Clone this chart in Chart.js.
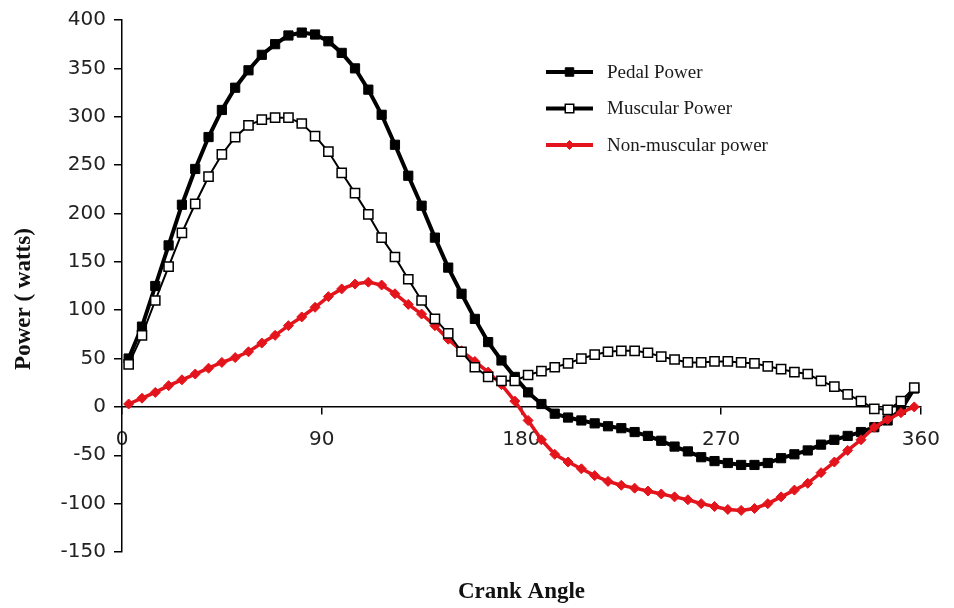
<!DOCTYPE html>
<html>
<head>
<meta charset="utf-8">
<title>Pedal power vs crank angle</title>
<script src="https://cdn.jsdelivr.net/npm/chart.js@4.4.1/dist/chart.umd.min.js"></script>
<style>
  html, body { margin: 0; padding: 0; background: #fff; }
  canvas { display: block; }
</style>
</head>
<body>
<canvas id="powerChart" width="954" height="608"></canvas>
<script>
// crank angle (deg) of each sample
const crankAngles = [
  3, 9, 15, 21, 27, 33, 39, 45, 51, 57,
  63, 69, 75, 81, 87, 93, 99, 105, 111, 117,
  123, 129, 135, 141, 147, 153, 159, 165, 171, 177,
  183, 189, 195, 201, 207, 213, 219, 225, 231, 237,
  243, 249, 255, 261, 267, 273, 279, 285, 291, 297,
  303, 309, 315, 321, 327, 333, 339, 345, 351, 357
];

// power in watts
const pedalPower = [
  50, 83, 125, 167, 209, 246, 279, 307, 330, 348,
  364, 375, 384, 387, 385, 378, 366, 350, 328, 302,
  271, 239, 208, 175, 144, 117, 91, 67, 48, 31,
  15, 3, -7, -11, -14, -17, -20, -22, -26, -30,
  -35, -41, -46, -52, -56, -58, -60, -60, -58, -53,
  -49, -45, -39, -34, -30, -26, -21, -14, -3, 19
];
const muscularPower = [
  44, 74, 110, 145, 180, 210, 238, 261, 279, 291,
  297, 299, 299, 293, 280, 264, 242, 221, 199, 175,
  155, 132, 110, 91, 76, 57, 41, 31, 27, 27,
  33, 37, 41, 45, 50, 54, 57, 58, 58, 56,
  52, 49, 46, 46, 47, 47, 46, 45, 42, 39,
  36, 34, 27, 21, 13, 6, -2, -3, 6, 20
];
const nonMuscularPower = [
  3, 9, 15, 22, 28, 34, 40, 46, 51, 57,
  66, 74, 84, 93, 103, 114, 122, 127, 129, 126,
  117, 106, 96, 84, 70, 58, 47, 36, 23, 6,
  -14, -34, -49, -57, -64, -71, -77, -81, -84, -87,
  -90, -93, -96, -100, -103, -106, -107, -105, -100, -93,
  -86, -79, -68, -57, -45, -34, -21, -13, -6, 0
];

const xTicks = [0, 90, 180, 270, 360];

const RED = '#e3141c';
const tickFont = { family: '"DejaVu Sans", sans-serif', size: 20 };

function pts(values) {
  return values.map((v, i) => ({ x: crankAngles[i], y: v }));
}

// legend with a short line + marker, like the original
const lineLegend = {
  id: 'lineLegend',
  afterDraw(chart, args, opts) {
    const ctx = chart.ctx;
    ctx.save();
    chart.data.datasets.forEach((ds, i) => {
      const y = opts.y + i * opts.gap;
      ctx.strokeStyle = ds.borderColor;
      ctx.lineWidth = opts.lineWidth;
      ctx.beginPath();
      ctx.moveTo(opts.x, y);
      ctx.lineTo(opts.x + opts.len, y);
      ctx.stroke();
      ctx.fillStyle = ds.pointBackgroundColor;
      ctx.strokeStyle = ds.pointBorderColor;
      ctx.lineWidth = ds.pointBorderWidth;
      Chart.helpers.drawPoint(ctx, {
        pointStyle: ds.pointStyle,
        radius: ds.pointRadius - 0.5,
        borderWidth: ds.pointBorderWidth,
        rotation: 0
      }, opts.x + opts.len / 2, y);
      ctx.fillStyle = '#1a1a1a';
      ctx.font = opts.font;
      ctx.textAlign = 'left';
      ctx.textBaseline = 'middle';
      ctx.fillText(ds.label, opts.x + opts.len + opts.textGap, y + 1);
    });
    ctx.restore();
  }
};

const axisTitles = {
  id: 'axisTitles',
  afterDraw(chart, args, opts) {
    const { ctx, chartArea } = chart;
    ctx.save();
    ctx.fillStyle = '#111';
    ctx.font = opts.font;
    ctx.textAlign = 'center';
    ctx.textBaseline = 'middle';
    ctx.fillText(opts.xText, (chartArea.left + chartArea.right) / 2, opts.xTitleY);
    ctx.translate(opts.yTitleX, opts.yTitleY);
    ctx.rotate(-Math.PI / 2);
    ctx.fillText(opts.yText, 0, 0);
    ctx.restore();
  }
};

const whiteBg = {
  id: 'whiteBg',
  beforeDraw(chart) {
    const ctx = chart.ctx;
    ctx.save();
    ctx.fillStyle = '#fff';
    ctx.fillRect(0, 0, chart.width, chart.height);
    ctx.restore();
  }
};

new Chart(document.getElementById('powerChart'), {
  type: 'line',
  data: {
    datasets: [
      {
        label: 'Pedal Power',
        data: pts(pedalPower),
        borderColor: '#000',
        borderWidth: 4,
        pointStyle: 'rect',
        pointRadius: 6.5,
        pointBackgroundColor: '#000',
        pointBorderColor: '#000',
        pointBorderWidth: 1,
        order: 2
      },
      {
        label: 'Muscular Power',
        data: pts(muscularPower),
        borderColor: '#000',
        borderWidth: 2,
        pointStyle: 'rect',
        pointRadius: 6.5,
        pointBackgroundColor: '#fff',
        pointBorderColor: '#000',
        pointBorderWidth: 1.5,
        order: 0
      },
      {
        label: 'Non-muscular power',
        data: pts(nonMuscularPower),
        borderColor: RED,
        borderWidth: 3.5,
        pointStyle: 'rectRot',
        pointRadius: 5,
        pointBackgroundColor: RED,
        pointBorderColor: RED,
        pointBorderWidth: 1,
        order: 1
      }
    ]
  },
  options: {
    responsive: false,
    animation: false,
    layout: { padding: { left: 0, right: 25, top: 18, bottom: 56 } },
    scales: {
      x: {
        type: 'linear',
        position: { y: 0 },
        min: 0,
        max: 360,
        afterBuildTicks: (scale) => { scale.ticks = xTicks.map(v => ({ value: v })); },
        grid: { drawOnChartArea: false, drawTicks: true, tickLength: 7, color: '#000', lineWidth: 1.5 },
        border: { display: true, color: '#000', width: 1.5 },
        ticks: { font: tickFont, color: '#222', padding: 14, maxRotation: 0 }
      },
      y: {
        min: -150,
        max: 400,
        afterFit: (scale) => { scale.width = 122; },
        grid: { drawOnChartArea: false, drawTicks: true, tickLength: 8, color: '#000', lineWidth: 1.5 },
        border: { display: true, color: '#000', width: 1.5 },
        ticks: { stepSize: 50, font: tickFont, color: '#222', padding: 8 }
      }
    },
    plugins: {
      legend: { display: false },
      tooltip: { enabled: false },
      lineLegend: {
        x: 546, y: 72, gap: 36.5, len: 47, textGap: 14, lineWidth: 4,
        font: '19px "Liberation Serif", serif'
      },
      axisTitles: {
        font: 'bold 23px "Liberation Serif", serif',
        xText: 'Crank Angle', xTitleY: 592,
        yText: 'Power ( watts)', yTitleX: 24, yTitleY: 299
      }
    }
  },
  plugins: [whiteBg, lineLegend, axisTitles]
});
</script>
</body>
</html>
